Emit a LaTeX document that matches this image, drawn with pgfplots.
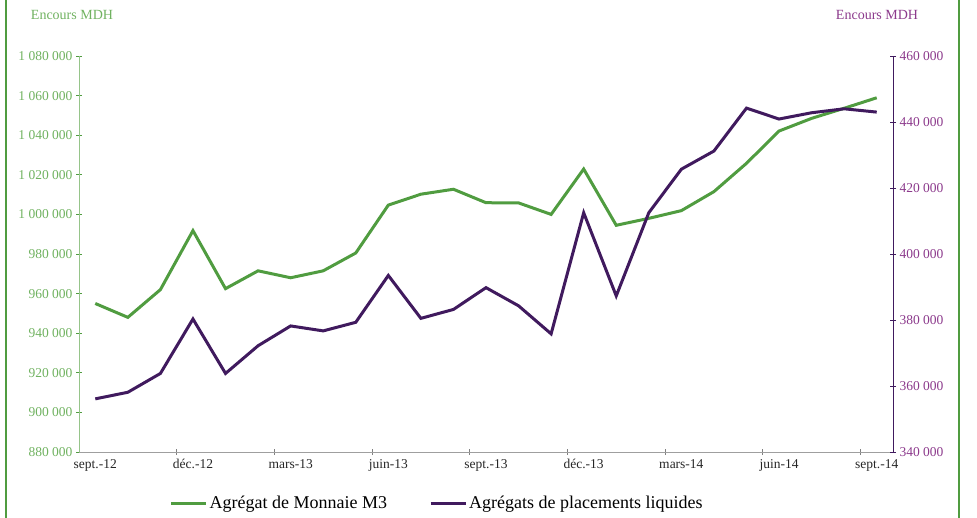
\documentclass[border=0pt]{standalone}
\usepackage{fontspec}
\setmainfont{Liberation Serif}
\usepackage{pgfplots}
\pgfplotsset{compat=1.18}
\definecolor{mgreen}{RGB}{80,156,64}
\definecolor{mgreenlt}{RGB}{112,178,96}
\definecolor{mgreenax}{RGB}{150,196,138}
\definecolor{mpurple}{RGB}{64,26,94}
\definecolor{mpurplelt}{RGB}{140,58,140}

\pgfplotstableread{
idx m3 apl
0  955000 356100
1  948000 358100
2  962000 363800
3  991800 380300
4  962500 363800
5  971500 372200
6  968000 378200
7  971500 376700
8  980500 379300
9  1004700 393500
10 1010200 380500
11 1012700 383200
12 1005900 389800
13 1005800 384300
14 1000000 375800
15 1022900 412500
16 994500 387300
17 998000 412500
18 1001900 425700
19 1011500 431200
20 1025800 444200
21 1042100 440900
22 1048500 442800
23 1053600 444000
24 1058900 443000
}\datatable

\begin{document}
\begin{tikzpicture}
\useasboundingbox (0,0) rectangle (977bp,518bp);
\draw[mgreen, line width=1.2bp] (6bp,0) -- (6bp,518bp);
\draw[mgreen, line width=1.2bp] (959bp,0) -- (959bp,518bp);
\pgfplotsset{
  every axis/.append style={
    scale only axis, width=814bp, height=396bp,
    at={(79bp,66bp)}, anchor=south west,
    xmin=-0.5, xmax=24.5,
    tick align=center, major tick length=6bp,
    scaled y ticks=false,
    yticklabel={\pgfmathprintnumber[assume math mode=true, 1000 sep={\ }, fixed, precision=0]{\tick}},
    ticklabel style={font=\fontsize{13.5bp}{15bp}\selectfont},
  }
}
\begin{axis}[
  axis x line*=bottom, axis y line*=left,
  ymin=880000, ymax=1080000, ytick distance=20000,
  x axis line style={draw=gray!75, line width=0.8bp},
  y axis line style={draw=mgreenax, line width=1bp},
  ytick style={draw=mgreen, line width=0.8bp},
  xtick style={draw=gray, line width=0.6bp},
  yticklabel style={text=mgreenlt},
  xtick={2.5,5.5,8.5,11.5,14.5,17.5,20.5,23.5}, xticklabel={\relax},
  extra x ticks={0,3,6,9,12,15,18,21,24},
  extra x tick labels={sept.-12,déc.-12,mars-13,juin-13,sept.-13,déc.-13,mars-14,juin-14,sept.-14},
  extra x tick style={major tick length=0pt, xticklabel style={text=black!85, yshift=-4bp}},
  clip=false,
]
\addplot[mgreen, line width=3bp] table[x=idx, y=m3] {\datatable};
\end{axis}
\begin{axis}[
  axis y line*=right, axis x line=none,
  ymin=340000, ymax=460000, ytick distance=20000,
  y axis line style={draw=mpurple, line width=1bp},
  ytick style={draw=mpurple, line width=0.8bp},
  yticklabel style={text=mpurplelt},
  clip=false,
  legend columns=2,
  legend style={draw=none, fill=none, at={(0.44,-0.129)}, anchor=center,
    font=\fontsize{18bp}{20bp}\selectfont,
    /tikz/every even column/.append style={column sep=40bp}},
  legend image code/.code={\draw[#1] (0bp,0bp) -- (35bp,0bp);},
]
\addlegendimage{mgreen, line width=3bp}
\addlegendentry{Agrégat de Monnaie M3}
\addplot[mpurple, line width=3bp] table[x=idx, y=apl] {\datatable};
\addlegendentry{Agrégats de placements liquides}
\end{axis}
\node[text=mgreenlt, font=\fontsize{14bp}{16bp}\selectfont] at (72bp,503bp) {Encours MDH};
\node[text=mpurplelt, font=\fontsize{14bp}{16bp}\selectfont] at (877bp,503bp) {Encours MDH};
\end{tikzpicture}
\end{document}
